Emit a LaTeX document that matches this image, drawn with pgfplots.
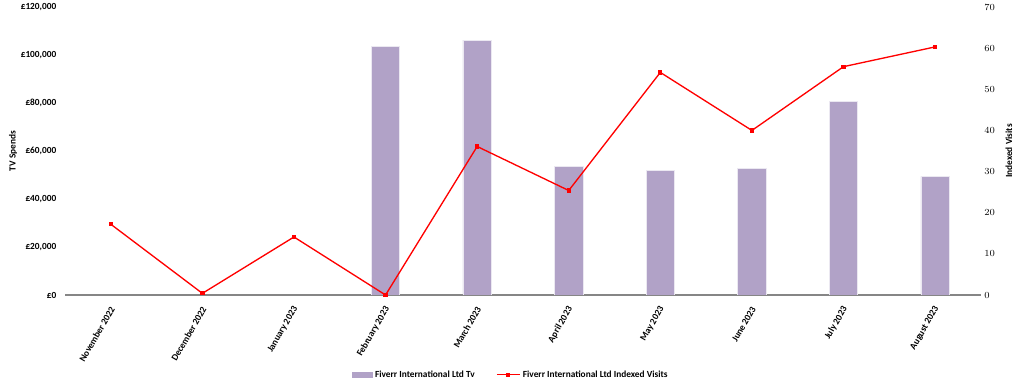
\documentclass[border=0pt]{standalone}
\usepackage{fontspec}
\setmainfont{Carlito}
\usepackage{pgfplots}
\pgfplotsset{compat=1.18}
\definecolor{barc}{RGB}{177,162,199}
\definecolor{axc}{RGB}{134,134,134}
\newcommand{\lblfont}{\fontsize{7}{8}\selectfont\bfseries}
\begin{document}
\begin{tikzpicture}
\path[use as bounding box] (0pt,0pt) rectangle (768pt,291.75pt);
\begin{axis}[
  at={(48.75pt,70.5pt)}, anchor=south west,
  scale only axis, width=686.9pt, height=216pt,
  xmin=-0.5, xmax=9.5, ymin=0, ymax=120000,
  axis x line*=bottom, axis y line*=left,
  x axis line style={draw=axc, line width=0.8pt, -},
  y axis line style={draw=none},
  major tick length=0pt,
  xtick={0,...,9},
  xticklabels={November 2022,December 2022,January 2023,February 2023,March 2023,April 2023,May 2023,June 2023,July 2023,August 2023},
  xticklabel style={font=\lblfont, xshift=3pt, yshift=-6.3pt, rotate=60, anchor=east},
  ytick={0,20000,40000,60000,80000,100000,120000},
  yticklabels={£0,{£20,000},{£40,000},{£60,000},{£80,000},{£100,000},{£120,000}},
  yticklabel style={font=\lblfont, xshift=-3pt},
  every axis y label/.style={at={(rel axis cs:0,0.5)}, xshift=-39pt, rotate=90, anchor=center},
  ylabel={TV Spends},
  label style={font=\lblfont},
]
\addplot[ybar, bar width=0.31, fill=barc, draw=white!75!barc, line width=0.5pt]
 coordinates {(3,103500) (4,106200) (5,53600) (6,51900) (7,52600) (8,80600) (9,49400)};
\end{axis}
\begin{axis}[
  at={(48.75pt,70.5pt)}, anchor=south west,
  scale only axis, width=686.9pt, height=216pt,
  xmin=-0.5, xmax=9.5, ymin=0, ymax=70,
  axis x line=none, axis y line*=right,
  y axis line style={draw=none},
  major tick length=0pt,
  ytick={0,10,...,70},
  yticklabel style={font=\lblfont, xshift=-1pt},
  every axis y label/.style={at={(rel axis cs:1,0.5)}, xshift=21pt, rotate=90, anchor=center},
  ylabel={Indexed Visits},
  label style={font=\lblfont},
  clip=false,
  legend style={at={(0.487,-0.277)}, anchor=center, draw=none, fill=none, font=\lblfont,
    legend columns=2, /tikz/every even column/.append style={column sep=14pt}},
]
\addlegendimage{legend image code/.code={\fill[barc] (0pt,-2.2pt) rectangle (15pt,2.2pt);}}
\addlegendentry{Fiverr International Ltd Tv}
\addplot[red, line width=1pt, mark=square*, mark size=1.1pt, mark options={fill=red}]
 coordinates {(0,17.2) (1,0.4) (2,14.1) (3,0) (4,36.1) (5,25.4) (6,54.1) (7,40.0) (8,55.5) (9,60.3)};
\addlegendentry{Fiverr International Ltd Indexed Visits}
\end{axis}
\end{tikzpicture}
\end{document}
